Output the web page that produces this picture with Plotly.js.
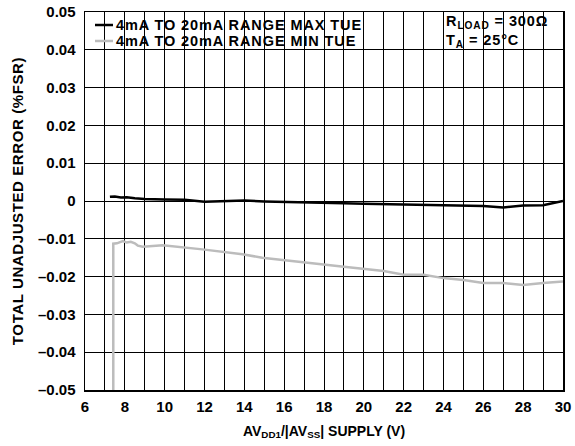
<!DOCTYPE html>
<html>
<head>
<meta charset="utf-8">
<script src="https://cdn.plot.ly/plotly-3.0.1.min.js"></script>
<style>html,body{margin:0;padding:0;background:#fff;}#chart{width:575px;height:446px;}</style>
</head>
<body>
<div id="chart"></div>
<script>
var maxX = [7.25, 7.5, 7.8, 8.1, 8.5, 9, 10, 11, 12, 13, 14, 15, 16, 17, 18, 19, 20, 21, 22, 23, 24, 25, 26, 27, 28, 29, 30];
var maxY = [0.0011, 0.0012, 0.0009, 0.0010, 0.0007, 0.0005, 0.0004, 0.0003, -0.0002, 0.0000, 0.0001, -0.0001, -0.0002, -0.0002, -0.0004, -0.0006, -0.0007, -0.0008, -0.0009, -0.0010, -0.0011, -0.0012, -0.0013, -0.0017, -0.0012, -0.0011, 0.0000];
var minX = [7.42, 7.42, 7.6, 7.9, 8.1, 8.3, 8.5, 8.65, 8.9, 9.9, 11.9, 13.9, 14.9, 16.8, 19, 21, 22, 23, 24, 25, 26, 27, 28, 29, 30];
var minY = [-0.05, -0.0113, -0.0112, -0.0106, -0.0110, -0.0108, -0.0112, -0.0118, -0.0121, -0.0117, -0.0128, -0.0141, -0.0150, -0.0162, -0.0174, -0.0185, -0.0195, -0.0195, -0.0204, -0.0209, -0.0217, -0.0217, -0.0222, -0.0217, -0.0213];
var seriesNames = ["4mA TO 20mA RANGE MAX TUE", "4mA TO 20mA RANGE MIN TUE"];
var seriesColors = ["#000000", "#bcbcbc"];
var yTickVals = [0.05, 0.04, 0.03, 0.02, 0.01, 0, -0.01, -0.02, -0.03, -0.04, -0.05];
var yTickText = ["0.05", "0.04", "0.03", "0.02", "0.01", "0", "–0.01", "–0.02", "–0.03", "–0.04", "–0.05"];
var xTickVals = [6, 8, 10, 12, 14, 16, 18, 20, 22, 24, 26, 28, 30];

var fam = "Liberation Sans, Arial, Helvetica, sans-serif";
var fs = 15;
var lfs = 14.5;
function spaced(t, px) { return '<span style="letter-spacing:' + px + 'px">' + t + '</span>'; }

var traces = [
  {x: maxX, y: maxY, mode: "lines", name: seriesNames[0], line: {color: seriesColors[0], width: 2.5}},
  {x: minX, y: minY, mode: "lines", name: seriesNames[1], line: {color: seriesColors[1], width: 2.5}}
];

var shapes = [
  {type: "rect", xref: "paper", yref: "paper", x0: 0, x1: 0.596, y0: 0.905, y1: 1, fillcolor: "#fff", line: {width: 0}, layer: "between"},
  {type: "rect", xref: "paper", yref: "paper", x0: 0.748, x1: 1, y0: 0.905, y1: 1, fillcolor: "#fff", line: {width: 0}, layer: "between"}
];
var annotations = [
  {xref: "paper", yref: "paper", x: 0.752, y: 0.9735, xanchor: "left", yanchor: "middle", align: "left", showarrow: false,
   text: spaced("R<sub>LOAD</sub> = 300Ω", 0.9), font: {family: fam, size: lfs, weight: "bold", color: "#000"}},
  {xref: "paper", yref: "paper", x: 0.752, y: 0.9235, xanchor: "left", yanchor: "middle", align: "left", showarrow: false,
   text: spaced("T<sub>A</sub> = 25°C", 0.9), font: {family: fam, size: lfs, weight: "bold", color: "#000"}}
];
// custom legend
var legRowsY = [0.9656, 0.9233];
seriesNames.forEach(function (nm, i) {
  shapes.push({type: "line", xref: "paper", yref: "paper", x0: 0.0209, x1: 0.0586, y0: legRowsY[i], y1: legRowsY[i],
               line: {color: seriesColors[i], width: 2.5}, layer: "above"});
  annotations.push({xref: "paper", yref: "paper", x: 0.0607, y: legRowsY[i], xanchor: "left", yanchor: "middle",
                    showarrow: false, text: spaced(nm, 0.9), font: {family: fam, size: lfs, weight: "bold", color: "#000"}});
});

var layout = {
  width: 575, height: 446,
  margin: {l: 85, r: 12, t: 12, b: 56},
  paper_bgcolor: "#fff", plot_bgcolor: "#fff",
  font: {family: fam, size: fs, color: "#000", weight: "bold"},
  showlegend: false,
  xaxis: {
    range: [6, 30], tickvals: xTickVals, showgrid: true, gridcolor: "#000", gridwidth: 1,
    showline: true, linecolor: "#000", linewidth: 1.5, mirror: "ticks", ticks: "inside", ticklen: 4, tickcolor: "#000",
    zeroline: false, ticklabelstandoff: 2, automargin: false,
    minor: {dtick: 1, tick0: 6, showgrid: true, gridcolor: "#000", gridwidth: 1, ticks: "inside", ticklen: 4, tickcolor: "#000"},
    tickfont: {family: fam, size: fs, weight: "bold"},
    title: {text: "AV<sub>DD1</sub>/|AV<sub>SS</sub>| SUPPLY (V)", font: {family: fam, size: 14, weight: "bold"}, standoff: 12}
  },
  yaxis: {
    range: [-0.05, 0.05], tickvals: yTickVals, ticktext: yTickText, showgrid: true, gridcolor: "#000", gridwidth: 1,
    showline: true, linecolor: "#000", linewidth: 1.5, mirror: "ticks", ticks: "inside", ticklen: 4, tickcolor: "#000",
    zeroline: false, ticklabelstandoff: 5, automargin: false,
    tickfont: {family: fam, size: fs, weight: "bold"},
    title: {text: spaced("TOTAL UNADJUSTED ERROR (%FSR)", 0.6), font: {family: fam, size: fs, weight: "bold"}, standoff: 10}
  },
  shapes: shapes,
  annotations: annotations
};
Plotly.newPlot("chart", traces, layout, {displayModeBar: false, staticPlot: true});
</script>
</body>
</html>
